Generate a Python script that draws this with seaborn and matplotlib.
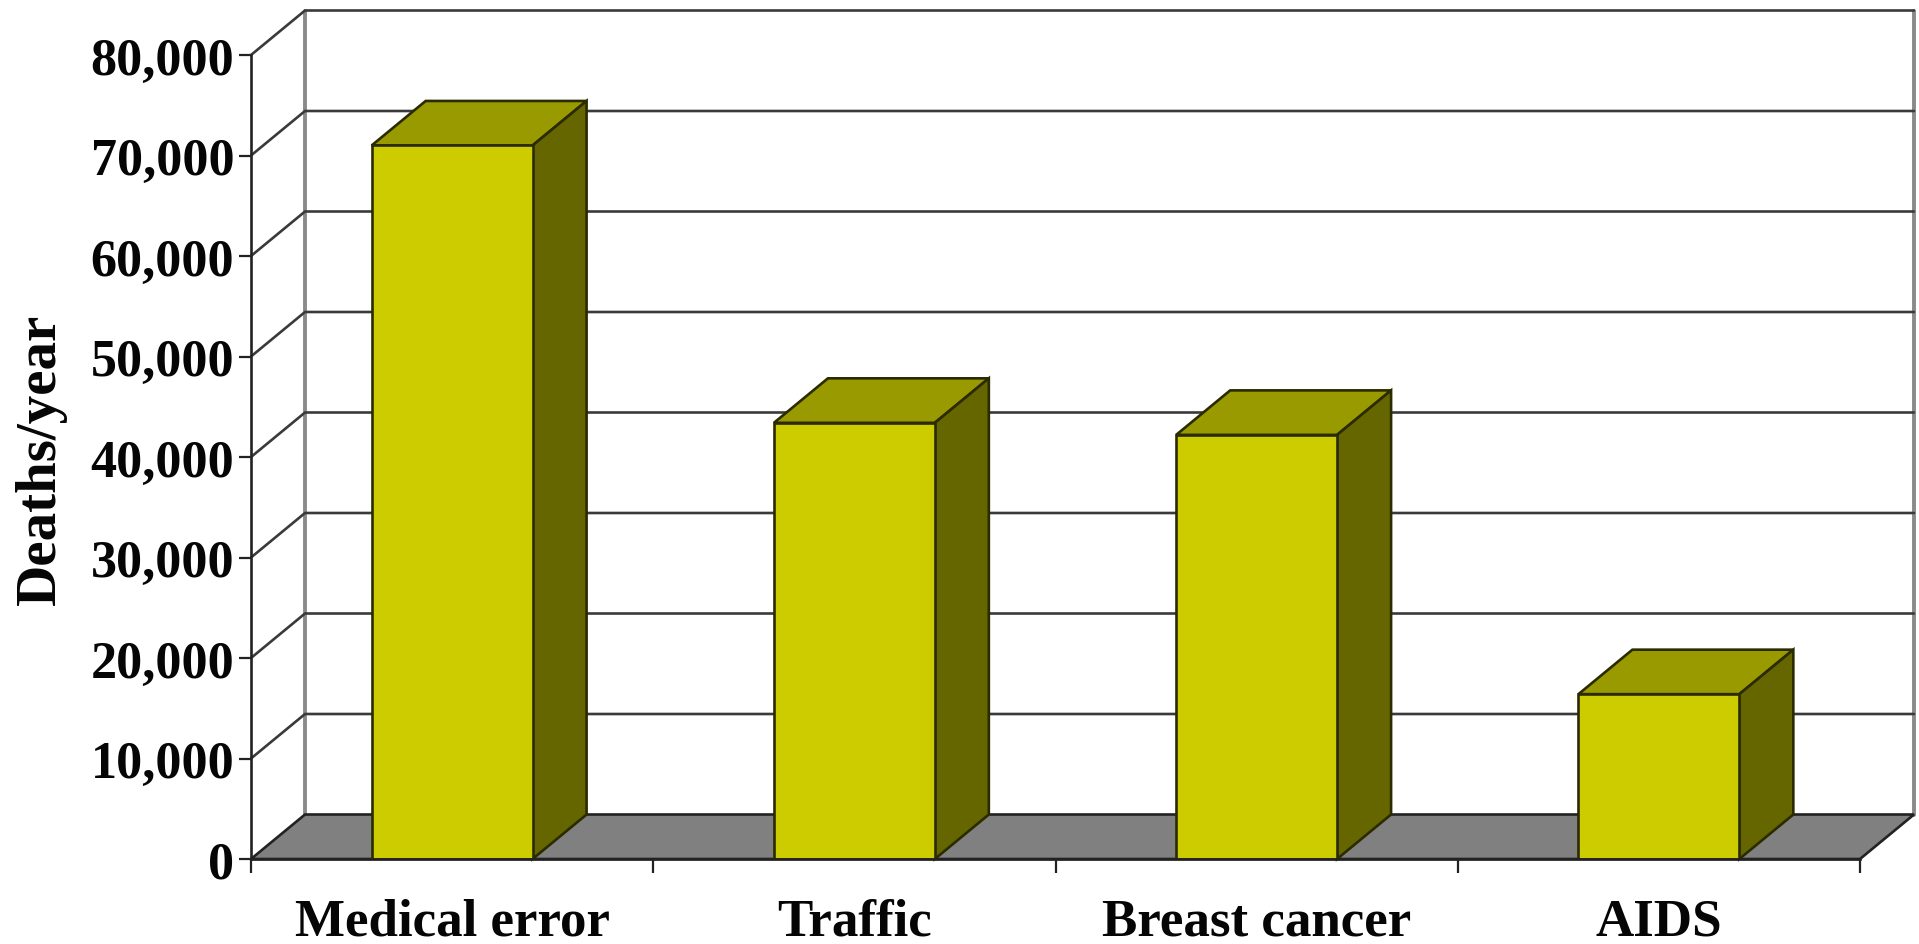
import matplotlib
matplotlib.use("Agg")
import matplotlib.pyplot as plt
from matplotlib.patches import Polygon
import seaborn as sns
import numpy as np

categories = ["Medical error", "Traffic", "Breast cancer", "AIDS"]
deaths = [71000, 43400, 42200, 16400]
y_ticks = [0, 10000, 20000, 30000, 40000, 50000, 60000, 70000, 80000]

sns.set_theme(style="white")
plt.rcParams["font.family"] = ["Liberation Serif", "DejaVu Serif"]
plt.rcParams["font.weight"] = "bold"

W, H = 1919, 945
fig = plt.figure(figsize=(W / 100, H / 100), dpi=100)
# front plane of the fake 3d box, in pixels
left, right, bottom, top = 251, 1860, 860, 56
ax = fig.add_axes([left / W, 1 - bottom / H, (right - left) / W, (bottom - top) / H])

sns.barplot(x=categories, y=deaths, color="#CCCC00", saturation=1, width=0.4,
            edgecolor="#2b2b00", linewidth=1.9, ax=ax, zorder=5)
bars = list(ax.containers[0])
ax.set_xlim(-0.5, 3.5)
ax.set_ylim(0, 80000)

# depth of the box in data units
dx = 54 / ((right - left) / 4)
dy = 44.5 / ((bottom - top) / 80000)
x0, x1 = -0.5, 3.5

# walls and floor
ax.add_patch(Polygon([(x0, 0), (x1, 0), (x1 + dx, dy), (x0 + dx, dy)], closed=True, fc="#808080",
                     ec="#222222", lw=1.9, zorder=2, clip_on=False))
for xb in [x0 + dx, x1 + dx]:
    ax.plot([xb, xb], [dy, 80000 + dy], color="#8a8a8a", lw=2.8, zorder=1, clip_on=False)

# grid runs up the side wall then across the back wall
for v in y_ticks[1:]:
    ax.plot([x0, x0 + dx, x1 + dx], [v, v + dy, v + dy], color="#3a3a3a", lw=1.9, zorder=1.5,
            clip_on=False, solid_joinstyle="miter")

# top and side faces of each bar
for bar in bars:
    a = bar.get_x()
    b = a + bar.get_width()
    h = bar.get_height()
    ax.add_patch(Polygon([(a, h), (b, h), (b + dx, h + dy), (a + dx, h + dy)], closed=True,
                         fc="#999900", ec="#2b2b00", lw=1.9, zorder=4, clip_on=False))
    ax.add_patch(Polygon([(b, 0), (b, h), (b + dx, h + dy), (b + dx, dy)], closed=True,
                         fc="#666600", ec="#2b2b00", lw=1.9, zorder=4, clip_on=False))

ax.set_yticks(y_ticks)
ax.set_yticklabels([f"{v:,}" for v in y_ticks], fontsize=37.5, fontweight="bold", color="#050505")
ax.tick_params(axis="y", left=True, length=8.6, width=1.6, color="#222222", pad=3.5)

# labels sit mid category, tick marks on the category borders
ax.set_xticks(np.arange(len(categories)))
ax.set_xticklabels(categories, fontsize=38.2, fontweight="bold", color="#050505")
ax.set_xticks(np.arange(len(categories) + 1) - 0.5, minor=True)
ax.tick_params(axis="x", which="major", bottom=False, length=0, pad=28)
ax.tick_params(axis="x", which="minor", bottom=True, length=10, width=1.6, color="#222222")

ax.set_ylabel("Deaths/year", fontsize=41, fontweight="bold", color="#050505")
ax.yaxis.set_label_coords((67 - left) / (right - left), (bottom - 459) / (bottom - top))

sns.despine(ax=ax, top=True, right=True)
for side in ["left", "bottom"]:
    ax.spines[side].set_color("#222222")
    ax.spines[side].set_linewidth(1.9)
    ax.spines[side].set_zorder(6)

fig.savefig("out.png", dpi=100, facecolor="white")
